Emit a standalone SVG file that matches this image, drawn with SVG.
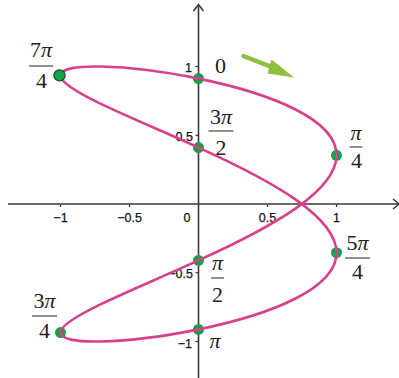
<svg xmlns="http://www.w3.org/2000/svg" width="399" height="378" viewBox="0 0 399 378">
<style>
.ax{stroke:#3a3a3a;stroke-width:1.6;fill:none}
.tk{stroke:#3a3a3a;stroke-width:1.2}
.tl{font-family:"Liberation Sans",Arial,sans-serif;font-size:12.5px;fill:#111;stroke:#111;stroke-width:0.25}
.m{font-family:"Liberation Serif","Times New Roman",serif;font-size:22px;fill:#222;text-anchor:middle}
.bar{stroke:#222;stroke-width:1}
.dot{fill:#16a04a}
.curve{fill:none;stroke:#d9408c;stroke-width:2.6}
</style>
<rect width="399" height="378" fill="#fff"/>
<g id="axes">
<line class="ax" x1="8" y1="204" x2="399" y2="204"/>
<polyline class="ax" points="393,199 399,204 393,209"/>
<line class="ax" x1="198.5" y1="5" x2="198.5" y2="378"/>
<polyline class="ax" points="193.5,11 198.5,4.5 203.5,11"/>
<line class="tk" x1="60.5" y1="204" x2="60.5" y2="207"/>
<line class="tk" x1="129.5" y1="204" x2="129.5" y2="207"/>
<line class="tk" x1="267.5" y1="204" x2="267.5" y2="207"/>
<line class="tk" x1="336.5" y1="204" x2="336.5" y2="207"/>
<line class="tk" x1="195.5" y1="66.5" x2="198.5" y2="66.5"/>
<line class="tk" x1="195.5" y1="135.3" x2="198.5" y2="135.3"/>
<line class="tk" x1="195.5" y1="272.7" x2="198.5" y2="272.7"/>
<line class="tk" x1="195.5" y1="341.5" x2="198.5" y2="341.5"/>
<text class="tl" x="60.5" y="222" text-anchor="middle">−1</text>
<text class="tl" x="129.5" y="222" text-anchor="middle">−0.5</text>
<text class="tl" x="187" y="222" text-anchor="middle">0</text>
<text class="tl" x="267.5" y="222" text-anchor="middle">0.5</text>
<text class="tl" x="336.5" y="222" text-anchor="middle">1</text>
<text class="tl" x="192" y="72" text-anchor="end">1</text>
<text class="tl" x="193" y="141" text-anchor="end">0.5</text>
<text class="tl" x="193" y="278" text-anchor="end">−0.5</text>
<text class="tl" x="192" y="348" text-anchor="end">−1</text>
</g>
<g id="points-under">
<circle class="dot" cx="198.5" cy="78.6" r="5.5"/>
<circle class="dot" cx="336.5" cy="155.3" r="5.5"/>
<circle class="dot" cx="198.5" cy="260.4" r="5.5"/>
<circle class="dot" cx="60.5" cy="332.6" r="5.5"/>
<circle class="dot" cx="198.5" cy="329.4" r="5.5"/>
<circle class="dot" cx="336.5" cy="252.7" r="5.5"/>
<circle class="dot" cx="198.5" cy="147.6" r="5.5"/>
</g>
<g id="curve">
<path class="curve" d="M198.5,78.61 C234.63,86 270.53,96.65 296.08,109.76 C321.63,122.87 336.5,138.43 336.5,155.26 C336.5,172.09 321.63,190.18 296.08,208.17 C270.53,226.16 234.63,244.03 198.5,260.44 C162.37,276.85 126.47,291.8 100.92,304.14 C75.37,316.48 60.5,326.2 60.5,332.58 C60.5,338.96 75.37,342 100.92,341.45 C126.47,340.9 162.37,336.78 198.5,329.39 C234.63,322 270.53,311.35 296.08,298.24 C321.63,285.13 336.5,269.57 336.5,252.74 C336.5,235.91 321.63,217.82 296.08,199.83 C270.53,181.84 234.63,163.97 198.5,147.56 C162.37,131.15 126.47,116.2 100.92,103.86 C75.37,91.52 60.5,81.8 60.5,75.42 C60.5,69.04 75.37,66 100.92,66.55 C126.47,67.1 162.37,71.22 198.5,78.61 Z"/>
</g>
<g id="p-7pi4">
<circle cx="59.5" cy="75.4" r="5.6" fill="#16a04a" stroke="#0b4f24" stroke-width="1.2"/>
<text class="m" x="41" y="57">7<tspan font-style="italic">π</tspan></text>
<line class="bar" x1="29" y1="66" x2="53" y2="66"/>
<text class="m" x="41.5" y="88">4</text>
</g>
<g id="p-0">
<text class="m" x="220.5" y="73">0</text>
</g>
<g id="p-3pi2">
<text class="m" x="221" y="124">3<tspan font-style="italic">π</tspan></text>
<line class="bar" x1="208.5" y1="131" x2="233.5" y2="131"/>
<text class="m" x="221" y="155">2</text>
</g>
<g id="p-pi4">
<text class="m" x="356" y="140" font-style="italic">π</text>
<line class="bar" x1="349.5" y1="147" x2="362.5" y2="147"/>
<text class="m" x="356.5" y="168">4</text>
</g>
<g id="p-5pi4">
<text class="m" x="357.5" y="250">5<tspan font-style="italic">π</tspan></text>
<line class="bar" x1="345" y1="258" x2="370" y2="258"/>
<text class="m" x="357.5" y="279">4</text>
</g>
<g id="p-pi2">
<text class="m" x="217.5" y="270" font-style="italic">π</text>
<line class="bar" x1="211" y1="278" x2="224" y2="278"/>
<text class="m" x="217.5" y="302">2</text>
</g>
<g id="p-pi">
<text class="m" x="215" y="348" font-style="italic">π</text>
</g>
<g id="p-3pi4">
<text class="m" x="44.5" y="308">3<tspan font-style="italic">π</tspan></text>
<line class="bar" x1="32" y1="316" x2="57" y2="316"/>
<text class="m" x="44.5" y="338">4</text>
</g>
<g id="direction">
<line x1="243.5" y1="56" x2="272" y2="67.2" stroke="#8fbf3f" stroke-width="4.5" stroke-linecap="round"/>
<polygon points="294,77.5 271.5,59.5 267.5,73.5" fill="#8fbf3f"/>
</g>
</svg>
